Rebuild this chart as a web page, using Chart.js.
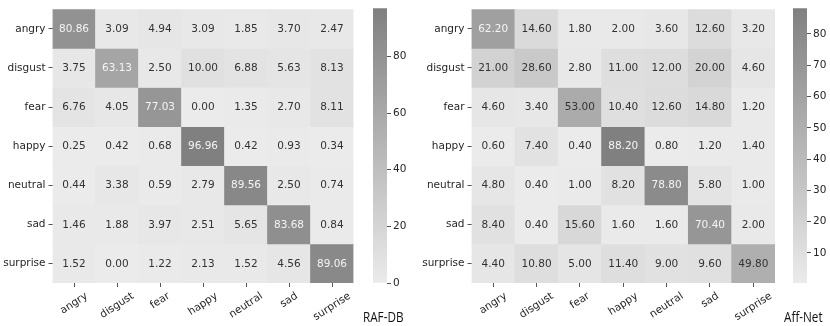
<!DOCTYPE html>
<html>
<head>
<meta charset="utf-8">
<script src="https://cdn.jsdelivr.net/npm/chart.js@4.4.0/dist/chart.umd.min.js"></script>
<style>
  body { margin: 0; background: #fff; width: 830px; height: 326px; position: relative; overflow: hidden; }
  canvas { position: absolute; top: 0; }
  .name { position: absolute; top: 309px; line-height: 15px; white-space: nowrap;
          font-family: 'Open Sans', sans-serif; font-size: 15px; color: #111;
          transform: scaleX(0.78); transform-origin: 0 0; }
</style>
</head>
<body>
<canvas id="rafMap" style="left:0px" width="356" height="326"></canvas>
<canvas id="rafBar" style="left:373px" width="37" height="326"></canvas>
<canvas id="affMap" style="left:410px" width="370" height="326"></canvas>
<canvas id="affBar" style="left:793px" width="37" height="326"></canvas>
<div class="name" style="left:363px">RAF-DB</div>
<div class="name" style="left:784px">Aff-Net</div>
<script>
var emotions = ['angry', 'disgust', 'fear', 'happy', 'neutral', 'sad', 'surprise'];

// RAF-DB confusion matrix (rows: true, cols: predicted), %
var rafRows = [
  [80.86, 3.09, 4.94, 3.09, 1.85, 3.70, 2.47],
  [3.75, 63.13, 2.50, 10.00, 6.88, 5.63, 8.13],
  [6.76, 4.05, 77.03, 0.00, 1.35, 2.70, 8.11],
  [0.25, 0.42, 0.68, 96.96, 0.42, 0.93, 0.34],
  [0.44, 3.38, 0.59, 2.79, 89.56, 2.50, 0.74],
  [1.46, 1.88, 3.97, 2.51, 5.65, 83.68, 0.84],
  [1.52, 0.00, 1.22, 2.13, 1.52, 4.56, 89.06]
];
var rafTicks = [0, 20, 40, 60, 80];

// Aff-Net confusion matrix, %
var affRows = [
  [62.20, 14.60, 1.80, 2.00, 3.60, 12.60, 3.20],
  [21.00, 28.60, 2.80, 11.00, 12.00, 20.00, 4.60],
  [4.60, 3.40, 53.00, 10.40, 12.60, 14.80, 1.20],
  [0.60, 7.40, 0.40, 88.20, 0.80, 1.20, 1.40],
  [4.80, 0.40, 1.00, 8.20, 78.80, 5.80, 1.00],
  [8.40, 0.40, 15.60, 1.60, 1.60, 70.40, 2.00],
  [4.40, 10.80, 5.00, 11.40, 9.00, 9.60, 49.80]
];
var affTicks = [10, 20, 30, 40, 50, 60, 70, 80];

var FONT = { family: 'DejaVu Sans', size: 10.5 };
var TEXT = '#262626';
var LIGHT = 235, DARK = 128;

function shade(v, lo, hi) {
  var t = (v - lo) / (hi - lo);
  var c = Math.round(LIGHT - t * (LIGHT - DARK));
  return 'rgb(' + c + ',' + c + ',' + c + ')';
}

var cellText = {
  id: 'cellText',
  afterDatasetsDraw: function (chart) {
    var ctx = chart.ctx;
    var o = chart.options.plugins.cellText;
    ctx.save();
    ctx.font = '10.5px "DejaVu Sans"';
    ctx.textAlign = 'center';
    ctx.textBaseline = 'middle';
    chart.data.datasets.forEach(function (ds, di) {
      chart.getDatasetMeta(di).data.forEach(function (bar, i) {
        var v = ds.values[i];
        var t = (v - o.lo) / (o.hi - o.lo);
        ctx.fillStyle = t > 0.63 ? '#f4f4f4' : '#333';
        ctx.fillText(v.toFixed(2), bar.x, (bar.y + bar.base) / 2 + 0.5);
      });
    });
    ctx.restore();
  }
};

var rotatedLabels = {
  id: 'rotatedLabels',
  afterDraw: function (chart) {
    var ctx = chart.ctx, xs = chart.scales.x;
    var a = 33 * Math.PI / 180;
    var top = chart.chartArea.bottom + 8;
    ctx.save();
    ctx.font = '10.5px "DejaVu Sans"';
    ctx.fillStyle = TEXT;
    ctx.textAlign = 'center';
    ctx.textBaseline = 'middle';
    emotions.forEach(function (lab, i) {
      var w = ctx.measureText(lab).width;
      var h = 10;
      var cx = xs.getPixelForValue(i);
      var cy = top + (w * Math.sin(a) + h * Math.cos(a)) / 2;
      ctx.save();
      ctx.translate(cx, cy);
      ctx.rotate(-a);
      ctx.fillText(lab, 0, 0);
      ctx.restore();
    });
    ctx.restore();
  }
};

function heatmap(id, rows, lo, hi, axisW, padRight) {
  var datasets = rows.map(function (row, r) {
    return {
      data: row.map(function () { return [r, r + 1]; }),
      values: row,
      backgroundColor: row.map(function (v) { return shade(v, lo, hi); }),
      borderWidth: 0,
      grouped: false,
      barPercentage: 1,
      categoryPercentage: 1
    };
  });
  return new Chart(document.getElementById(id), {
    type: 'bar',
    data: { labels: emotions, datasets: datasets },
    plugins: [cellText, rotatedLabels],
    options: {
      responsive: false,
      animation: false,
      events: [],
      layout: { padding: { top: 3, right: padRight, left: 0, bottom: 0 } },
      plugins: {
        legend: { display: false },
        tooltip: { enabled: false },
        cellText: { lo: lo, hi: hi }
      },
      scales: {
        x: {
          type: 'category',
          offset: true,
          grid: { offset: false, drawOnChartArea: false, drawTicks: true, tickLength: 4, color: '#555' },
          border: { display: false },
          ticks: { display: false },
          afterFit: function (s) { s.height = 43; }
        },
        y: {
          type: 'linear',
          min: 0,
          max: 7,
          reverse: true,
          grid: { drawOnChartArea: false, drawTicks: true, tickLength: 4, color: '#555' },
          border: { display: false },
          afterBuildTicks: function (s) {
            s.ticks = emotions.map(function (e, i) { return { value: i + 0.5 }; });
          },
          ticks: {
            autoSkip: false,
            font: FONT,
            color: TEXT,
            padding: 3,
            callback: function (v) { return emotions[Math.floor(v)]; }
          },
          afterFit: function (s) { s.width = axisW; }
        }
      }
    }
  });
}

function colorbar(id, lo, hi, tickVals) {
  return new Chart(document.getElementById(id), {
    type: 'bar',
    data: {
      labels: [''],
      datasets: [{
        data: [[lo, hi]],
        borderWidth: 0,
        barPercentage: 1,
        categoryPercentage: 1,
        backgroundColor: function (c) {
          var area = c.chart.chartArea;
          if (!area) return shade(hi, lo, hi);
          var g = c.chart.ctx.createLinearGradient(0, area.bottom, 0, area.top);
          g.addColorStop(0, shade(lo, lo, hi));
          g.addColorStop(1, shade(hi, lo, hi));
          return g;
        }
      }]
    },
    options: {
      responsive: false,
      animation: false,
      events: [],
      layout: { padding: { top: 3, bottom: 43, left: 0, right: 0 } },
      plugins: { legend: { display: false }, tooltip: { enabled: false } },
      scales: {
        x: { display: false },
        y: {
          position: 'right',
          min: lo,
          max: hi,
          grid: { drawOnChartArea: false, drawTicks: true, tickLength: 4, color: '#555' },
          border: { display: false },
          afterBuildTicks: function (s) {
            s.ticks = tickVals.map(function (v) { return { value: v }; });
          },
          ticks: { font: FONT, color: TEXT, padding: 2 },
          afterFit: function (s) { s.width = 23; }
        }
      }
    }
  });
}

heatmap('rafMap', rafRows, 0, 96.96, 52.5, 2.5);
colorbar('rafBar', 0, 96.96, rafTicks);
heatmap('affMap', affRows, 0.4, 88.2, 61.5, 5);
colorbar('affBar', 0.4, 88.2, affTicks);
</script>
</body>
</html>
